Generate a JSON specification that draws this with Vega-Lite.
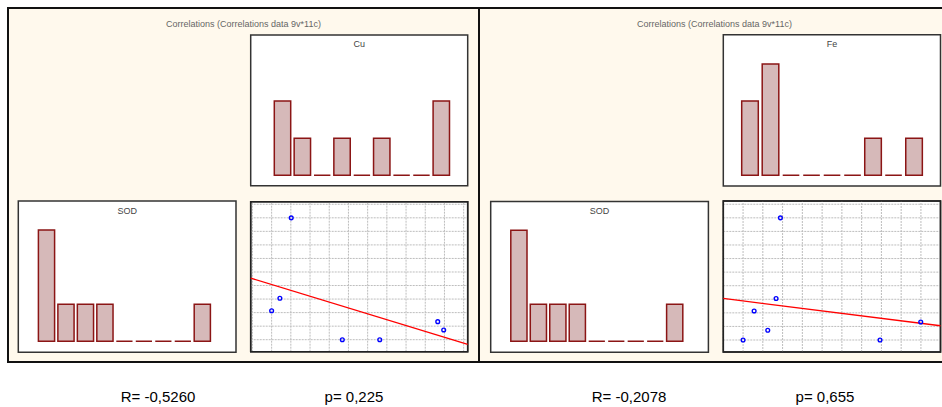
{
  "$schema": "https://vega.github.io/schema/vega-lite/v6.json",
  "width": 942,
  "height": 407,
  "padding": 0,
  "autosize": {"type": "none"},
  "background": "white",
  "config": {"view": {"stroke": null}, "scale": {"continuousPadding": 0}},
  "datasets": {
    "one": [{"k": 1}],
    "panels": [
      {"panel": "Cu", "title": "Correlations (Correlations data 9v*11c)", "R": "R= -0,5260", "p": "p= 0,225"},
      {"panel": "Fe", "title": "Correlations (Correlations data 9v*11c)", "R": "R= -0,2078", "p": "p= 0,655"}
    ],
    "cuHist": [
      {"bin": 1, "count": 2}, {"bin": 2, "count": 1}, {"bin": 3, "count": 0},
      {"bin": 4, "count": 1}, {"bin": 5, "count": 0}, {"bin": 6, "count": 1},
      {"bin": 7, "count": 0}, {"bin": 8, "count": 0}, {"bin": 9, "count": 2}
    ],
    "feHist": [
      {"bin": 1, "count": 2}, {"bin": 2, "count": 3}, {"bin": 3, "count": 0},
      {"bin": 4, "count": 0}, {"bin": 5, "count": 0}, {"bin": 6, "count": 0},
      {"bin": 7, "count": 1}, {"bin": 8, "count": 0}, {"bin": 9, "count": 1}
    ],
    "sodHist": [
      {"bin": 1, "count": 3}, {"bin": 2, "count": 1}, {"bin": 3, "count": 1},
      {"bin": 4, "count": 1}, {"bin": 5, "count": 0}, {"bin": 6, "count": 0},
      {"bin": 7, "count": 0}, {"bin": 8, "count": 0}, {"bin": 9, "count": 1}
    ],
    "pts": [
      {"sod": 9.0, "cu": 2.02, "fe": 2.89},
      {"sod": 3.06, "cu": 1.43, "fe": 2.67},
      {"sod": 2.14, "cu": 1.0, "fe": 1.56},
      {"sod": 0.72, "cu": 9.96, "fe": 2.25},
      {"sod": 0.0, "cu": 4.68, "fe": 1.0},
      {"sod": 0.0, "cu": 6.63, "fe": 7.93},
      {"sod": 1.33, "cu": 9.65, "fe": 9.99}
    ],
    "gx": [{"g": 0}, {"g": 1}, {"g": 2}, {"g": 3}, {"g": 4}, {"g": 5}, {"g": 6}, {"g": 7}, {"g": 8}, {"g": 9}, {"g": 10}, {"g": 11}],
    "gy": [{"g": 0}, {"g": 1}, {"g": 2}, {"g": 3}, {"g": 4}, {"g": 5}, {"g": 6}, {"g": 7}, {"g": 8}, {"g": 9}, {"g": 10}]
  },
  "resolve": {"scale": {"x": "independent", "y": "independent"}},
  "layer": [
    {
      "data": {"name": "panels"},
      "mark": {"type": "rect", "fill": "#fff9ed", "stroke": "#111111", "strokeWidth": 2},
      "encoding": {
        "x": {"field": "panel", "type": "nominal", "axis": null, "scale": {"type": "band", "domain": ["Cu", "Fe"], "range": [8, 950], "paddingInner": 0, "paddingOuter": 0}},
        "y": {"datum": 0, "type": "quantitative", "axis": null, "scale": {"domain": [0, 1], "range": [362, 8], "nice": false, "zero": false, "padding": 0}},
        "y2": {"datum": 1}
      }
    },
    {
      "data": {"name": "panels"},
      "mark": {"type": "text", "fontSize": 9, "font": "Liberation Sans", "color": "#666666", "baseline": "middle"},
      "encoding": {
        "x": {"field": "panel", "type": "nominal", "axis": null, "scale": {"type": "band", "domain": ["Cu", "Fe"], "range": [8, 950], "paddingInner": 0, "paddingOuter": 0}},
        "y": {"datum": 0.955, "type": "quantitative", "axis": null, "scale": {"domain": [0, 1], "range": [362, 8], "nice": false, "zero": false, "padding": 0}},
        "text": {"field": "title"}
      }
    },
    {
      "data": {"name": "panels"},
      "mark": {"type": "text", "fontSize": 15, "font": "Liberation Sans", "color": "#000000", "baseline": "middle"},
      "encoding": {
        "x": {"field": "panel", "type": "nominal", "bandPosition": 0.3185, "axis": null, "scale": {"type": "band", "domain": ["Cu", "Fe"], "range": [8, 950], "paddingInner": 0, "paddingOuter": 0}},
        "y": {"datum": -0.0989, "type": "quantitative", "axis": null, "scale": {"domain": [0, 1], "range": [362, 8], "nice": false, "zero": false, "padding": 0}},
        "text": {"field": "R"}
      }
    },
    {
      "data": {"name": "panels"},
      "mark": {"type": "text", "fontSize": 15, "font": "Liberation Sans", "color": "#000000", "baseline": "middle"},
      "encoding": {
        "x": {"field": "panel", "type": "nominal", "bandPosition": 0.7346, "axis": null, "scale": {"type": "band", "domain": ["Cu", "Fe"], "range": [8, 950], "paddingInner": 0, "paddingOuter": 0}},
        "y": {"datum": -0.0989, "type": "quantitative", "axis": null, "scale": {"domain": [0, 1], "range": [362, 8], "nice": false, "zero": false, "padding": 0}},
        "text": {"field": "p"}
      }
    },

    {
      "data": {"name": "one"},
      "mark": {"type": "rect", "fill": "white", "stroke": "#333333", "strokeWidth": 1.5},
      "encoding": {
        "x": {"datum": -0.602, "type": "quantitative", "axis": null, "scale": {"domain": [-0.602, 10.33], "range": [250.7, 467.7], "nice": false, "zero": false, "padding": 0}},
        "x2": {"datum": 10.33},
        "y": {"datum": -0.28, "type": "quantitative", "axis": null, "scale": {"domain": [-0.28, 3.78], "range": [185.7, 35], "nice": false, "zero": false, "padding": 0}},
        "y2": {"datum": 3.78}
      }
    },
    {
      "data": {"name": "cuHist"},
      "mark": {"type": "bar", "width": 16.4, "fill": "#d6b9b9", "stroke": "#8b1515", "strokeWidth": 1.5},
      "encoding": {
        "x": {"field": "bin", "type": "quantitative", "axis": null, "scale": {"domain": [-0.602, 10.33], "range": [250.7, 467.7], "nice": false, "zero": false, "padding": 0}},
        "y": {"field": "count", "type": "quantitative", "axis": null, "scale": {"domain": [-0.28, 3.78], "range": [185.7, 35], "nice": false, "zero": false, "padding": 0}},
        "y2": {"datum": 0}
      }
    },
    {
      "data": {"name": "one"},
      "mark": {"type": "text", "text": "Cu", "fontSize": 9, "font": "Liberation Sans", "color": "#444444", "baseline": "middle"},
      "encoding": {
        "x": {"datum": 4.864, "type": "quantitative", "axis": null, "scale": {"domain": [-0.602, 10.33], "range": [250.7, 467.7], "nice": false, "zero": false, "padding": 0}},
        "y": {"datum": 3.54, "type": "quantitative", "axis": null, "scale": {"domain": [-0.28, 3.78], "range": [185.7, 35], "nice": false, "zero": false, "padding": 0}}
      }
    },

    {
      "data": {"name": "one"},
      "mark": {"type": "rect", "fill": "white", "stroke": "#333333", "strokeWidth": 1.5},
      "encoding": {
        "x": {"datum": -0.302, "type": "quantitative", "axis": null, "scale": {"domain": [-0.302, 10.29], "range": [723.3, 940.5], "nice": false, "zero": false, "padding": 0}},
        "x2": {"datum": 10.29},
        "y": {"datum": -0.288, "type": "quantitative", "axis": null, "scale": {"domain": [-0.288, 3.79], "range": [186, 34.7], "nice": false, "zero": false, "padding": 0}},
        "y2": {"datum": 3.79}
      }
    },
    {
      "data": {"name": "feHist"},
      "mark": {"type": "bar", "width": 16.6, "fill": "#d6b9b9", "stroke": "#8b1515", "strokeWidth": 1.5},
      "encoding": {
        "x": {"field": "bin", "type": "quantitative", "axis": null, "scale": {"domain": [-0.302, 10.29], "range": [723.3, 940.5], "nice": false, "zero": false, "padding": 0}},
        "y": {"field": "count", "type": "quantitative", "axis": null, "scale": {"domain": [-0.288, 3.79], "range": [186, 34.7], "nice": false, "zero": false, "padding": 0}},
        "y2": {"datum": 0}
      }
    },
    {
      "data": {"name": "one"},
      "mark": {"type": "text", "text": "Fe", "fontSize": 9, "font": "Liberation Sans", "color": "#444444", "baseline": "middle"},
      "encoding": {
        "x": {"datum": 4.994, "type": "quantitative", "axis": null, "scale": {"domain": [-0.302, 10.29], "range": [723.3, 940.5], "nice": false, "zero": false, "padding": 0}},
        "y": {"datum": 3.54, "type": "quantitative", "axis": null, "scale": {"domain": [-0.288, 3.79], "range": [186, 34.7], "nice": false, "zero": false, "padding": 0}}
      }
    },

    {
      "data": {"name": "one"},
      "mark": {"type": "rect", "fill": "white", "stroke": "#333333", "strokeWidth": 1.5},
      "encoding": {
        "x": {"datum": -0.448, "type": "quantitative", "axis": null, "scale": {"domain": [-0.448, 10.73], "range": [18.3, 236], "nice": false, "zero": false, "padding": 0}},
        "x2": {"datum": 10.73},
        "y": {"datum": -0.296, "type": "quantitative", "axis": null, "scale": {"domain": [-0.296, 3.78], "range": [352.3, 201], "nice": false, "zero": false, "padding": 0}},
        "y2": {"datum": 3.78}
      }
    },
    {
      "data": {"name": "sodHist"},
      "mark": {"type": "bar", "width": 16.2, "fill": "#d6b9b9", "stroke": "#8b1515", "strokeWidth": 1.5},
      "encoding": {
        "x": {"field": "bin", "type": "quantitative", "axis": null, "scale": {"domain": [-0.448, 10.73], "range": [18.3, 236], "nice": false, "zero": false, "padding": 0}},
        "y": {"field": "count", "type": "quantitative", "axis": null, "scale": {"domain": [-0.296, 3.78], "range": [352.3, 201], "nice": false, "zero": false, "padding": 0}},
        "y2": {"datum": 0}
      }
    },
    {
      "data": {"name": "one"},
      "mark": {"type": "text", "text": "SOD", "fontSize": 9, "font": "Liberation Sans", "color": "#444444", "baseline": "middle"},
      "encoding": {
        "x": {"datum": 5.14, "type": "quantitative", "axis": null, "scale": {"domain": [-0.448, 10.73], "range": [18.3, 236], "nice": false, "zero": false, "padding": 0}},
        "y": {"datum": 3.51, "type": "quantitative", "axis": null, "scale": {"domain": [-0.296, 3.78], "range": [352.3, 201], "nice": false, "zero": false, "padding": 0}}
      }
    },

    {
      "data": {"name": "one"},
      "mark": {"type": "rect", "fill": "white", "stroke": "#333333", "strokeWidth": 1.5},
      "encoding": {
        "x": {"datum": -0.448, "type": "quantitative", "axis": null, "scale": {"domain": [-0.448, 10.73], "range": [490.7, 708.4], "nice": false, "zero": false, "padding": 0}},
        "x2": {"datum": 10.73},
        "y": {"datum": -0.296, "type": "quantitative", "axis": null, "scale": {"domain": [-0.296, 3.78], "range": [352.3, 201.5], "nice": false, "zero": false, "padding": 0}},
        "y2": {"datum": 3.78}
      }
    },
    {
      "data": {"name": "sodHist"},
      "mark": {"type": "bar", "width": 16.2, "fill": "#d6b9b9", "stroke": "#8b1515", "strokeWidth": 1.5},
      "encoding": {
        "x": {"field": "bin", "type": "quantitative", "axis": null, "scale": {"domain": [-0.448, 10.73], "range": [490.7, 708.4], "nice": false, "zero": false, "padding": 0}},
        "y": {"field": "count", "type": "quantitative", "axis": null, "scale": {"domain": [-0.296, 3.78], "range": [352.3, 201.5], "nice": false, "zero": false, "padding": 0}},
        "y2": {"datum": 0}
      }
    },
    {
      "data": {"name": "one"},
      "mark": {"type": "text", "text": "SOD", "fontSize": 9, "font": "Liberation Sans", "color": "#444444", "baseline": "middle"},
      "encoding": {
        "x": {"datum": 5.14, "type": "quantitative", "axis": null, "scale": {"domain": [-0.448, 10.73], "range": [490.7, 708.4], "nice": false, "zero": false, "padding": 0}},
        "y": {"datum": 3.51, "type": "quantitative", "axis": null, "scale": {"domain": [-0.296, 3.78], "range": [352.3, 201.5], "nice": false, "zero": false, "padding": 0}}
      }
    },

    {
      "data": {"name": "one"},
      "mark": {"type": "rect", "fill": "white", "stroke": "#222222", "strokeWidth": 1.5},
      "encoding": {
        "x": {"datum": -0.09, "type": "quantitative", "axis": null, "scale": {"domain": [-0.09, 11.21], "range": [250.7, 467.7], "nice": false, "zero": false, "padding": 0}},
        "x2": {"datum": 11.21},
        "y": {"datum": -0.886, "type": "quantitative", "axis": null, "scale": {"domain": [-0.886, 10.19], "range": [351.7, 201.7], "nice": false, "zero": false, "padding": 0}},
        "y2": {"datum": 10.19}
      }
    },
    {
      "data": {"name": "gx"},
      "mark": {"type": "rule", "stroke": "#bdbdbd", "strokeWidth": 1, "strokeDash": [2, 1]},
      "encoding": {
        "x": {"field": "g", "type": "quantitative", "axis": null, "scale": {"domain": [-0.09, 11.21], "range": [250.7, 467.7], "nice": false, "zero": false, "padding": 0}},
        "y": {"datum": -0.886, "type": "quantitative", "axis": null, "scale": {"domain": [-0.886, 10.19], "range": [351.7, 201.7], "nice": false, "zero": false, "padding": 0}},
        "y2": {"datum": 10.19}
      }
    },
    {
      "data": {"name": "gy"},
      "mark": {"type": "rule", "stroke": "#bdbdbd", "strokeWidth": 1, "strokeDash": [2, 1]},
      "encoding": {
        "y": {"field": "g", "type": "quantitative", "axis": null, "scale": {"domain": [-0.886, 10.19], "range": [351.7, 201.7], "nice": false, "zero": false, "padding": 0}},
        "x": {"datum": -0.09, "type": "quantitative", "axis": null, "scale": {"domain": [-0.09, 11.21], "range": [250.7, 467.7], "nice": false, "zero": false, "padding": 0}},
        "x2": {"datum": 11.21}
      }
    },
    {
      "data": {"name": "one"},
      "mark": {"type": "rect", "fill": null, "fillOpacity": 0, "stroke": "#222222", "strokeWidth": 1.5},
      "encoding": {
        "x": {"datum": -0.09, "type": "quantitative", "axis": null, "scale": {"domain": [-0.09, 11.21], "range": [250.7, 467.7], "nice": false, "zero": false, "padding": 0}},
        "x2": {"datum": 11.21},
        "y": {"datum": -0.886, "type": "quantitative", "axis": null, "scale": {"domain": [-0.886, 10.19], "range": [351.7, 201.7], "nice": false, "zero": false, "padding": 0}},
        "y2": {"datum": 10.19}
      }
    },
    {
      "data": {"name": "pts"},
      "transform": [{"regression": "sod", "on": "cu", "extent": [-0.09, 11.21]}],
      "mark": {"type": "line", "color": "#ff0000", "strokeWidth": 1.3},
      "encoding": {
        "x": {"field": "cu", "type": "quantitative", "axis": null, "scale": {"domain": [-0.09, 11.21], "range": [250.7, 467.7], "nice": false, "zero": false, "padding": 0}},
        "y": {"field": "sod", "type": "quantitative", "axis": null, "scale": {"domain": [-0.886, 10.19], "range": [351.7, 201.7], "nice": false, "zero": false, "padding": 0}}
      }
    },
    {
      "data": {"name": "pts"},
      "mark": {"type": "point", "shape": "circle", "filled": false, "size": 14, "stroke": "#0000ff", "strokeWidth": 1.4, "opacity": 1},
      "encoding": {
        "x": {"field": "cu", "type": "quantitative", "axis": null, "scale": {"domain": [-0.09, 11.21], "range": [250.7, 467.7], "nice": false, "zero": false, "padding": 0}},
        "y": {"field": "sod", "type": "quantitative", "axis": null, "scale": {"domain": [-0.886, 10.19], "range": [351.7, 201.7], "nice": false, "zero": false, "padding": 0}}
      }
    },

    {
      "data": {"name": "one"},
      "mark": {"type": "rect", "fill": "white", "stroke": "#222222", "strokeWidth": 1.5},
      "encoding": {
        "x": {"datum": 0, "type": "quantitative", "axis": null, "scale": {"domain": [0, 10.99], "range": [723.3, 940.5], "nice": false, "zero": false, "padding": 0}},
        "x2": {"datum": 10.99},
        "y": {"datum": -0.884, "type": "quantitative", "axis": null, "scale": {"domain": [-0.884, 10.24], "range": [352, 201], "nice": false, "zero": false, "padding": 0}},
        "y2": {"datum": 10.24}
      }
    },
    {
      "data": {"name": "gx"},
      "mark": {"type": "rule", "stroke": "#bdbdbd", "strokeWidth": 1, "strokeDash": [2, 1]},
      "encoding": {
        "x": {"field": "g", "type": "quantitative", "axis": null, "scale": {"domain": [0, 10.99], "range": [723.3, 940.5], "nice": false, "zero": false, "padding": 0}},
        "y": {"datum": -0.884, "type": "quantitative", "axis": null, "scale": {"domain": [-0.884, 10.24], "range": [352, 201], "nice": false, "zero": false, "padding": 0}},
        "y2": {"datum": 10.24}
      }
    },
    {
      "data": {"name": "gy"},
      "mark": {"type": "rule", "stroke": "#bdbdbd", "strokeWidth": 1, "strokeDash": [2, 1]},
      "encoding": {
        "y": {"field": "g", "type": "quantitative", "axis": null, "scale": {"domain": [-0.884, 10.24], "range": [352, 201], "nice": false, "zero": false, "padding": 0}},
        "x": {"datum": 0, "type": "quantitative", "axis": null, "scale": {"domain": [0, 10.99], "range": [723.3, 940.5], "nice": false, "zero": false, "padding": 0}},
        "x2": {"datum": 10.99}
      }
    },
    {
      "data": {"name": "one"},
      "mark": {"type": "rect", "fill": null, "fillOpacity": 0, "stroke": "#222222", "strokeWidth": 1.5},
      "encoding": {
        "x": {"datum": 0, "type": "quantitative", "axis": null, "scale": {"domain": [0, 10.99], "range": [723.3, 940.5], "nice": false, "zero": false, "padding": 0}},
        "x2": {"datum": 10.99},
        "y": {"datum": -0.884, "type": "quantitative", "axis": null, "scale": {"domain": [-0.884, 10.24], "range": [352, 201], "nice": false, "zero": false, "padding": 0}},
        "y2": {"datum": 10.24}
      }
    },
    {
      "data": {"name": "pts"},
      "transform": [{"regression": "sod", "on": "fe", "extent": [0, 10.99]}],
      "mark": {"type": "line", "color": "#ff0000", "strokeWidth": 1.3},
      "encoding": {
        "x": {"field": "fe", "type": "quantitative", "axis": null, "scale": {"domain": [0, 10.99], "range": [723.3, 940.5], "nice": false, "zero": false, "padding": 0}},
        "y": {"field": "sod", "type": "quantitative", "axis": null, "scale": {"domain": [-0.884, 10.24], "range": [352, 201], "nice": false, "zero": false, "padding": 0}}
      }
    },
    {
      "data": {"name": "pts"},
      "mark": {"type": "point", "shape": "circle", "filled": false, "size": 14, "stroke": "#0000ff", "strokeWidth": 1.4, "opacity": 1},
      "encoding": {
        "x": {"field": "fe", "type": "quantitative", "axis": null, "scale": {"domain": [0, 10.99], "range": [723.3, 940.5], "nice": false, "zero": false, "padding": 0}},
        "y": {"field": "sod", "type": "quantitative", "axis": null, "scale": {"domain": [-0.884, 10.24], "range": [352, 201], "nice": false, "zero": false, "padding": 0}}
      }
    }
  ]
}
